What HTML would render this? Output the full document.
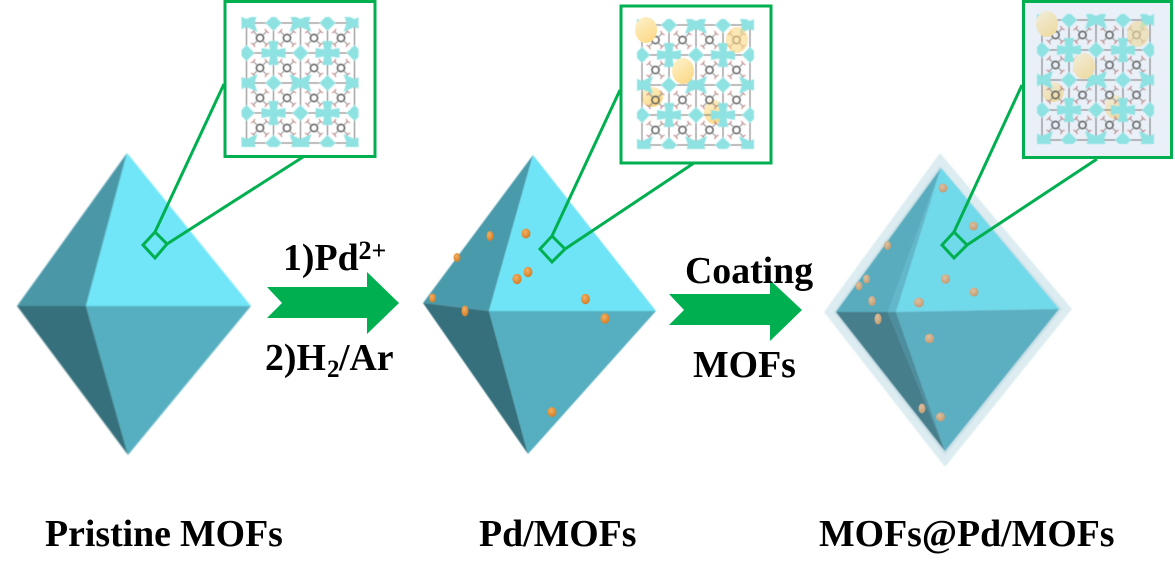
<!DOCTYPE html>
<html><head><meta charset="utf-8"><style>
html,body{margin:0;padding:0;background:#fff}
svg{display:block}
text{font-family:"Liberation Serif",serif;font-weight:bold;fill:#000;font-size:37.8px}
</style></head><body>
<svg width="1175" height="579" viewBox="0 0 1175 579" xmlns="http://www.w3.org/2000/svg">
<defs>
<filter id="b1" x="-5%" y="-5%" width="110%" height="110%"><feGaussianBlur stdDeviation="0.8"/></filter>
<filter id="b2" x="-5%" y="-5%" width="110%" height="110%"><feGaussianBlur stdDeviation="0.5"/></filter>
<filter id="b3" x="-5%" y="-5%" width="110%" height="110%"><feGaussianBlur stdDeviation="0.55"/></filter>
<clipPath id="gc"><rect x="-5" y="-6" width="117" height="130"/></clipPath>
<radialGradient id="pd" cx="40%" cy="35%" r="70%"><stop offset="0" stop-color="#f4b060"/><stop offset="1" stop-color="#cf7a25"/></radialGradient>
<radialGradient id="pc" cx="40%" cy="35%" r="70%"><stop offset="0" stop-color="#dcc0a0"/><stop offset="1" stop-color="#c09a72"/></radialGradient>
<linearGradient id="yl" x1="0.2" y1="0" x2="0.8" y2="1"><stop offset="0" stop-color="#fdf0c8"/><stop offset="1" stop-color="#fbd884"/></linearGradient>
<linearGradient id="yl2" x1="0.2" y1="0" x2="0.8" y2="1"><stop offset="0" stop-color="#f1ecd8"/><stop offset="1" stop-color="#eeda9f"/></linearGradient>
<g id="cell">
<rect width="27" height="30" fill="none" stroke="#777" stroke-width="1"/>
<circle cx="13.5" cy="15" r="3.6" fill="none" stroke="#444" stroke-width="1.3"/>
<path d="M11 12.500L7 8.500M16 12.500L20 8.500M11 17.500L7 21.500M16 17.500L20 21.500" stroke="#888" stroke-width="0.9"/>
<path d="M7 8.500L4.500 10M7 8.500L8.500 6M20 8.500L22.500 10M20 8.500L18.500 6M7 21.500L4.500 20M7 21.500L8.500 24M20 21.500L22.500 20M20 21.500L18.500 24" stroke="#b9706f" stroke-width="1"/>
</g>
<polygon id="nb" points="-11,-9 0,-4 11,-9 8,0 11,9 0,4 -11,9 -8,0" fill="#8fe2e2"/>
<polygon id="nd" points="0,-8 8,0 0,8 -8,0" fill="#8fe2e2"/>
<polygon id="nc" points="-5,-12 5,-12 3.500,-3.500 12,-5 12,5 3.500,3.500 5,12 -5,12 -3.500,3.500 -12,5 -12,-5 -3.500,-3.500" fill="#8fe2e2"/>
<g id="grid" filter="url(#b3)"><g clip-path="url(#gc)">
<use href="#cell" x="0" y="0"/><use href="#cell" x="27" y="0"/><use href="#cell" x="54" y="0"/><use href="#cell" x="81" y="0"/>
<use href="#cell" x="0" y="30"/><use href="#cell" x="27" y="30"/><use href="#cell" x="54" y="30"/><use href="#cell" x="81" y="30"/>
<use href="#cell" x="0" y="60"/><use href="#cell" x="27" y="60"/><use href="#cell" x="54" y="60"/><use href="#cell" x="81" y="60"/>
<use href="#cell" x="0" y="90"/><use href="#cell" x="27" y="90"/><use href="#cell" x="54" y="90"/><use href="#cell" x="81" y="90"/>
<use href="#nb" x="0" y="0"/><use href="#nd" x="27" y="0"/><use href="#nb" x="54" y="0"/><use href="#nd" x="81" y="0"/><use href="#nb" x="108" y="0"/>
<use href="#nd" x="0" y="30"/><use href="#nc" x="27" y="30"/><use href="#nd" x="54" y="30"/><use href="#nc" x="81" y="30"/><use href="#nd" x="108" y="30"/>
<use href="#nb" x="0" y="60"/><use href="#nd" x="27" y="60"/><use href="#nb" x="54" y="60"/><use href="#nd" x="81" y="60"/><use href="#nb" x="108" y="60"/>
<use href="#nd" x="0" y="90"/><use href="#nc" x="27" y="90"/><use href="#nd" x="54" y="90"/><use href="#nc" x="81" y="90"/><use href="#nd" x="108" y="90"/>
<use href="#nb" x="0" y="120"/><use href="#nd" x="27" y="120"/><use href="#nb" x="54" y="120"/><use href="#nd" x="81" y="120"/><use href="#nb" x="108" y="120"/>
</g></g>
</defs>

<!-- Octahedron 1 -->
<g filter="url(#b1)">
<polygon points="127,153 17,306 86,306" fill="#4a97a7"/>
<polygon points="127,153 251,306 86,306" fill="#70e6f8"/>
<polygon points="17,306 86,306 128,455" fill="#36707c"/>
<polygon points="86,306 251,306 128,455" fill="#54afc0"/>
</g>

<!-- Octahedron 2 -->
<g filter="url(#b2)">
<polygon points="533,155 423,303 489,311" fill="#4a9aaa"/>
<polygon points="533,155 656,311 489,311" fill="#6ee4f6"/>
<polygon points="423,303 489,311 528,454" fill="#36707c"/>
<polygon points="489,311 656,311 528,454" fill="#54afc0"/>
</g>
<g fill="url(#pd)">
<ellipse cx="526" cy="233.500" rx="4.500" ry="5"/><ellipse cx="528" cy="272" rx="4.500" ry="5.200"/><ellipse cx="517" cy="279" rx="4.600" ry="5.200"/>
<ellipse cx="585.500" cy="299" rx="4.500" ry="5.200"/><ellipse cx="605" cy="318.500" rx="4.600" ry="5.200"/><ellipse cx="552" cy="412" rx="4.500" ry="5"/>
<ellipse cx="490" cy="236" rx="3.500" ry="5"/><ellipse cx="457" cy="257.500" rx="3.500" ry="4.500"/><ellipse cx="432.500" cy="298" rx="3.500" ry="4.500"/><ellipse cx="465" cy="311" rx="3.500" ry="5.500"/>
</g>

<!-- Octahedron 3 -->
<g filter="url(#b1)">
<polygon points="940,153 1072,309 945,467 824,312" fill="#dcecf1"/>
<polygon points="940,166 1062,309 945,455 834,312" fill="#c9dfe6"/>
</g>
<g filter="url(#b2)">
<polygon points="941,168 836,312 888,312" fill="#58acbe"/>
<polygon points="941,168 888,312 896,312" fill="#62b8ca"/>
<polygon points="941,168 1059,309 896,312" fill="#6fd9ea"/>
<polygon points="836,312 888,312 945,451" fill="#467e8c"/>
<polygon points="888,312 896,312 945,451" fill="#4e8e9e"/>
<polygon points="896,312 1059,309 945,451" fill="#5bafc1"/>
</g>
<g fill="url(#pc)">
<circle cx="943" cy="188" r="4.500"/><circle cx="973.500" cy="226" r="4.500"/><circle cx="945.500" cy="279" r="4.700"/><circle cx="974" cy="292" r="4.500"/>
<circle cx="919" cy="302.500" r="5"/><circle cx="929.500" cy="338.500" r="4.800"/><circle cx="940.500" cy="417" r="4.500"/>
<ellipse cx="922" cy="408.500" rx="3.500" ry="5"/><ellipse cx="887.500" cy="245.500" rx="3.500" ry="4.500"/><ellipse cx="866.500" cy="279" rx="3.500" ry="4.500"/>
<ellipse cx="859" cy="286" rx="3.500" ry="4.500"/><ellipse cx="872" cy="301" rx="3.700" ry="5"/><ellipse cx="878" cy="319" rx="3.500" ry="5.500"/>
</g>

<!-- Inset 1 -->
<rect x="225" y="1.500" width="150" height="155" fill="#fff" stroke="#00b050" stroke-width="3"/>
<use href="#grid" transform="translate(246.500,23)"/>
<!-- Inset 2 -->
<rect x="621" y="6" width="150" height="157" fill="#fff" stroke="#00b050" stroke-width="3"/>
<ellipse cx="652" cy="97" rx="11" ry="10" fill="url(#yl)"/>
<ellipse cx="714" cy="112" rx="10" ry="12" fill="url(#yl)"/>
<use href="#grid" transform="translate(642,25)"/>
<ellipse cx="646" cy="30" rx="11" ry="13" fill="url(#yl)"/>
<ellipse cx="683" cy="71" rx="11" ry="13" fill="url(#yl)"/>
<ellipse cx="737" cy="40" rx="11" ry="13" fill="#fbd884" opacity="0.6"/>
<!-- Inset 3 -->
<rect x="1023.500" y="1.500" width="148" height="156" fill="#e9f0f8" stroke="#00b050" stroke-width="3"/>
<ellipse cx="1053" cy="92" rx="11" ry="10" fill="url(#yl2)"/>
<ellipse cx="1115" cy="107" rx="10" ry="12" fill="url(#yl2)"/>
<use href="#grid" transform="translate(1042,20)"/>
<ellipse cx="1047" cy="24" rx="11" ry="13" fill="url(#yl2)"/>
<ellipse cx="1084" cy="66" rx="11" ry="13" fill="url(#yl2)"/>
<ellipse cx="1138" cy="34" rx="11" ry="13" fill="#eeda9f" opacity="0.65"/>

<!-- Selectors and zoom lines -->
<g fill="none" stroke="#00b050" stroke-width="3">
<polygon points="155,232 167,244 155,258 143,245"/>
<polyline points="155,232 224,84"/><polyline points="167,244 303,157"/>
<polygon points="552,236 565,249 552,262 540,249"/>
<polyline points="552,236 620,90"/><polyline points="565,249 694,163"/>
<polygon points="954,232 967,245 954,258 942,245"/>
<polyline points="954,232 1022,85"/><polyline points="967,245 1097,159"/>
</g>

<!-- Arrows -->
<polygon points="267,287 367,287 367,272 399,303 367,334 367,318 267,318 282,303" fill="#00b050"/>
<polygon points="669,294 770,294 770,280 802,310 770,341 770,325 669,325 684,310" fill="#00b050"/>

<!-- Labels -->
<text x="283" y="270">1)Pd</text><text x="358.500" y="259" style="font-size:26px">2+</text>
<text x="265" y="370">2)H</text><text x="327" y="377" style="font-size:25px">2</text><text x="339" y="370">/Ar</text>
<text x="685" y="283">Coating</text>
<text x="693" y="377">MOFs</text>
<text x="45" y="546">Pristine</text><text x="180" y="546">MOFs</text>
<text x="479" y="546">Pd/MOFs</text>
<text x="819" y="546">MOFs@Pd/MOFs</text>
</svg>
</body></html>
